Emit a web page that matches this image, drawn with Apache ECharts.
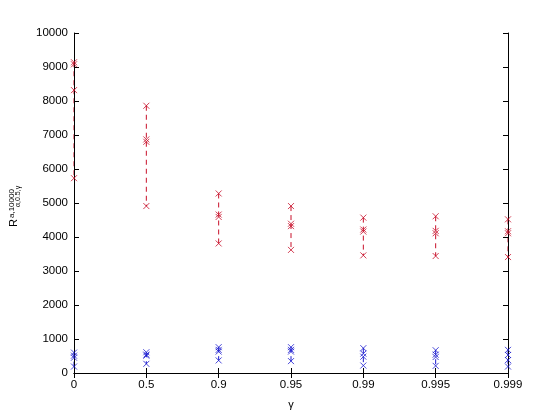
<!DOCTYPE html>
<html>
<head>
<meta charset="utf-8">
<script src="https://cdn.jsdelivr.net/npm/echarts@6/dist/echarts.min.js"></script>
<style>
  html, body { margin: 0; padding: 0; background: #fff; }
  #chart { width: 560px; height: 420px; }
</style>
</head>
<body>
<div id="chart"></div>
<script>
// gamma values on the x axis (evenly spaced)
var categories = ['0', '0.5', '0.9', '0.95', '0.99', '0.995', '0.999'];

// red group: max, two middle marks, min
var redMax  = [9140, 7860, 5280, 4910, 4570, 4610, 4520];
var redMidA = [9080, 6870, 4660, 4390, 4220, 4180, 4170];
var redMidB = [8320, 6800, 4590, 4320, 4160, 4110, 4110];
var redMin  = [5730, 4910, 3810, 3620, 3460, 3440, 3410];

// blue group: max, two middle marks, min
var blueMax  = [600, 610, 760, 760, 730, 670, 680];
var blueMidA = [510, 540, 680, 680, 570, 540, 530];
var blueMidB = [450, 510, 630, 630, 480, 470, 380];
var blueMin  = [190, 270, 370, 350, 220, 210, 190];

var yTicks = { min: 0, max: 10000, interval: 1000 };

var RED = '#c8102a';
var BLUE = '#1c1cd0';
var FONT = 'Liberation Sans, Arial, sans-serif';
var CROSS = 'path://M0,0L10,10M10,0L0,10';

function points(arr) {
  return arr.map(function (v, i) { return [categories[i], v]; });
}

function crossSeries(arrs, color) {
  var data = [];
  arrs.forEach(function (a) { data = data.concat(points(a)); });
  return {
    type: 'scatter',
    data: data,
    symbol: CROSS,
    symbolSize: 6,
    itemStyle: { color: 'rgba(0,0,0,0)', borderColor: color, borderWidth: 1 },
    z: 5
  };
}

// dashed segment from max to min, drawn under the axis lines
function rangeLines(top, bottom, color) {
  var out = [];
  for (var i = 0; i < categories.length; i++) {
    out.push({
      type: 'line',
      data: [[categories[i], top[i]], [categories[i], bottom[i]]],
      symbol: 'none',
      lineStyle: { color: color, width: 1, type: [5, 4] },
      z: -1
    });
  }
  return out;
}

var series = []
  .concat(rangeLines(redMax, redMin, RED))
  .concat(rangeLines(blueMax, blueMin, BLUE));
series.push(crossSeries([redMax, redMidA, redMidB, redMin], RED));
series.push(crossSeries([blueMax, blueMidA, blueMidB, blueMin], BLUE));

var axisLine = { show: true, lineStyle: { color: '#000', width: 1 } };
var tickIn = { show: true, inside: true, length: 5, lineStyle: { color: '#000' } };

var chart = echarts.init(document.getElementById('chart'));
chart.setOption({
  animation: false,
  backgroundColor: '#fff',
  textStyle: { fontFamily: FONT },
  grid: { left: 74, right: 52, top: 33, bottom: 47 },
  xAxis: [{
    type: 'category',
    data: categories,
    boundaryGap: false,
    position: 'bottom',
    axisLine: axisLine,
    axisTick: tickIn,
    axisLabel: { color: '#000', fontSize: 11.5, margin: 6, fontFamily: FONT },
    splitLine: { show: false },
    name: 'γ',
    nameLocation: 'middle',
    nameGap: 26,
    nameTextStyle: { color: '#000', fontSize: 11, fontFamily: FONT }
  }, {
    type: 'category',
    data: categories,
    boundaryGap: false,
    position: 'top',
    axisLine: axisLine,
    axisTick: tickIn,
    axisLabel: { show: false },
    splitLine: { show: false }
  }],
  yAxis: [{
    type: 'value',
    min: yTicks.min, max: yTicks.max, interval: yTicks.interval,
    position: 'left',
    axisLine: axisLine,
    axisTick: tickIn,
    axisLabel: {
      color: '#000', fontSize: 11.5, margin: 6, fontFamily: FONT,
      formatter: function (v) { return String(v); }
    },
    splitLine: { show: false }
  }, {
    type: 'value',
    min: yTicks.min, max: yTicks.max, interval: yTicks.interval,
    position: 'right',
    axisLine: axisLine,
    axisTick: tickIn,
    axisLabel: { show: false },
    splitLine: { show: false }
  }],
  graphic: [{
    type: 'group',
    x: 14,
    y: 227,
    rotation: Math.PI / 2,
    children: [{
      type: 'text', x: 0, y: 0,
      style: { text: 'R', fontSize: 11, fontFamily: FONT, fill: '#000', verticalAlign: 'middle', align: 'left' }
    }, {
      type: 'text', x: 9, y: -2,
      style: { text: 'a,10000', fontSize: 8, fontFamily: FONT, fill: '#000', verticalAlign: 'middle', align: 'left' }
    }, {
      type: 'text', x: 20, y: 4,
      style: { text: 'α,0.5,γ', fontSize: 7, fontFamily: FONT, fill: '#000', verticalAlign: 'middle', align: 'left' }
    }]
  }],
  series: series
});
</script>
</body>
</html>
